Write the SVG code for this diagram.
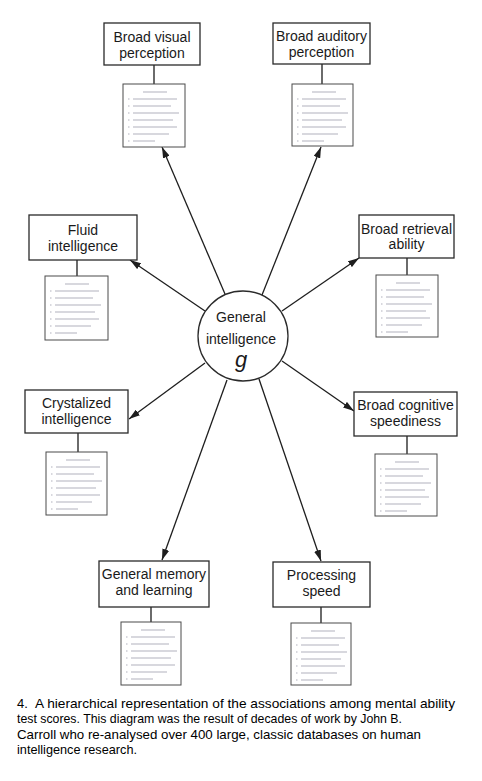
<svg xmlns="http://www.w3.org/2000/svg" xmlns:xlink="http://www.w3.org/1999/xlink" width="482" height="781" viewBox="0 0 482 781">
<style>
.box{fill:#fff;stroke:#2a2a2a;stroke-width:1.3}
.sub{fill:#fff;stroke:#4a4a4a;stroke-width:1}
.lbl{font-family:"Liberation Sans",Arial,sans-serif;font-size:14px;fill:#1a1a1a;text-anchor:middle}
.cap{font-family:"Liberation Sans",Arial,sans-serif;font-size:13px;fill:#000}
.edge{stroke:#1e1e1e;stroke-width:1.3;fill:none}
.arr{marker-end:url(#ah)}
</style>
<defs>
<marker id="ah" markerUnits="userSpaceOnUse" markerWidth="11" markerHeight="7" refX="11" refY="3.5" orient="auto">
<path d="M0,0 L11,3.5 L0,7 Z" fill="#1e1e1e"/>
</marker>
<g id="tx" fill="none" stroke="#d8d8de" stroke-width="2.2">
<path d="M20 8h24 M5 15h1.5 M10 15h44 M5 22h1.5 M10 22h38 M5 29h1.5 M10 29h46 M5 36h1.5 M10 36h40 M5 43h1.5 M10 43h44 M5 50h1.5 M10 50h36 M5 57h1.5 M10 57h22"/>
</g>
</defs>
<rect width="482" height="781" fill="#fff"/>

<g id="connectors">
<path class="edge" d="M154 65V84 M322 64V84 M77 260V276 M407 258V275 M78 433V452 M407 436V454 M151 607V622 M321 607V623"/>
<line class="edge arr" x1="225" y1="294" x2="162" y2="147"/>
<line class="edge arr" x1="262" y1="295" x2="321" y2="147"/>
<line class="edge arr" x1="205" y1="311" x2="130" y2="260"/>
<line class="edge arr" x1="282" y1="311" x2="359" y2="258"/>
<line class="edge arr" x1="205" y1="363" x2="129" y2="419"/>
<line class="edge arr" x1="282" y1="361" x2="354" y2="411"/>
<line class="edge arr" x1="227" y1="380" x2="162" y2="560"/>
<line class="edge arr" x1="259" y1="379" x2="321" y2="561"/>
</g>

<g id="g-center">
<circle cx="243" cy="336" r="45" fill="#fff" stroke="#2a2a2a" stroke-width="1.3"/>
<text class="lbl" x="241" y="321.5">General</text>
<text class="lbl" x="241" y="343.5">intelligence</text>
<text x="241" y="367" style="font-family:'Liberation Sans',Arial,sans-serif;font-size:22px;font-style:italic;fill:#1a1a1a;text-anchor:middle">g</text>
</g>

<g id="visual">
<rect class="box" x="104" y="23" width="96" height="42"/>
<text class="lbl" x="152" y="41.5">Broad visual</text>
<text class="lbl" x="152" y="57.5">perception</text>
<rect class="sub" x="123" y="84" width="62" height="63"/>
<use xlink:href="#tx" x="123" y="84"/>
</g>

<g id="auditory">
<rect class="box" x="273" y="23" width="97" height="41"/>
<text class="lbl" x="321.5" y="41">Broad auditory</text>
<text class="lbl" x="321.5" y="57">perception</text>
<rect class="sub" x="292" y="84" width="61" height="62"/>
<use xlink:href="#tx" x="292" y="84"/>
</g>

<g id="fluid">
<rect class="box" x="29" y="215" width="108" height="45"/>
<text class="lbl" x="83" y="235">Fluid</text>
<text class="lbl" x="83" y="251">intelligence</text>
<rect class="sub" x="45" y="276" width="63" height="64"/>
<use xlink:href="#tx" x="45" y="276"/>
</g>

<g id="retrieval">
<rect class="box" x="359" y="215" width="95" height="43"/>
<text class="lbl" x="406.5" y="233.5">Broad retrieval</text>
<text class="lbl" x="406.5" y="249">ability</text>
<rect class="sub" x="376" y="275" width="62" height="62"/>
<use xlink:href="#tx" x="376" y="275"/>
</g>

<g id="crystalized">
<rect class="box" x="25" y="390" width="103" height="43"/>
<text class="lbl" x="76.5" y="408">Crystalized</text>
<text class="lbl" x="76.5" y="424">intelligence</text>
<rect class="sub" x="46" y="452" width="61" height="63"/>
<use xlink:href="#tx" x="46" y="452"/>
</g>

<g id="cognitive">
<rect class="box" x="354" y="392" width="103" height="44"/>
<text class="lbl" x="405.5" y="410">Broad cognitive</text>
<text class="lbl" x="405.5" y="426">speediness</text>
<rect class="sub" x="375" y="454" width="62" height="62"/>
<use xlink:href="#tx" x="375" y="454"/>
</g>

<g id="memory">
<rect class="box" x="99" y="561" width="110" height="46"/>
<text class="lbl" x="154" y="579">General memory</text>
<text class="lbl" x="154" y="595">and learning</text>
<rect class="sub" x="121" y="622" width="60" height="63"/>
<use xlink:href="#tx" x="121" y="622"/>
</g>

<g id="processing">
<rect class="box" x="273" y="562" width="97" height="45"/>
<text class="lbl" x="321.5" y="580">Processing</text>
<text class="lbl" x="321.5" y="596">speed</text>
<rect class="sub" x="291" y="623" width="60" height="62"/>
<use xlink:href="#tx" x="291" y="623"/>
</g>

<g id="caption">
<text class="cap" x="17" y="708">4.</text>
<text class="cap" x="35" y="708" textLength="420" lengthAdjust="spacingAndGlyphs">A hierarchical representation of the associations among mental ability</text>
<text class="cap" x="17" y="723.3" textLength="385" lengthAdjust="spacingAndGlyphs">test scores. This diagram was the result of decades of work by John B.</text>
<text class="cap" x="17" y="738.6" textLength="404" lengthAdjust="spacingAndGlyphs">Carroll who re-analysed over 400 large, classic databases on human</text>
<text class="cap" x="17" y="754" textLength="120" lengthAdjust="spacingAndGlyphs">intelligence research.</text>
</g>
</svg>
